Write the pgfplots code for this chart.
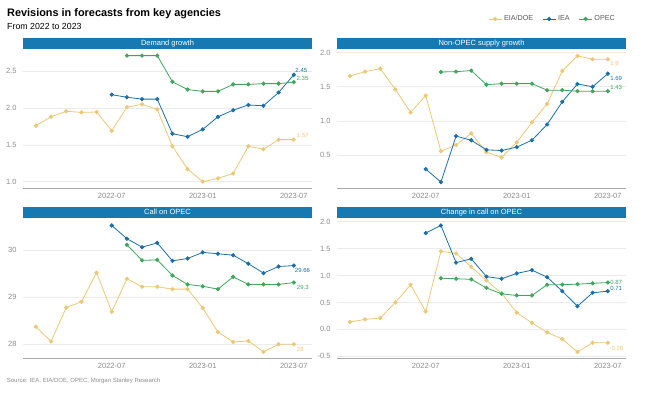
\documentclass[border=0pt]{standalone}
\usepackage{pgfplots}
\pgfplotsset{compat=1.18}
\usepackage{fontspec}
\setmainfont{Liberation Sans}
\definecolor{eia}{HTML}{EBC878}
\definecolor{iea}{HTML}{1B6FA8}
\definecolor{opec}{HTML}{3EA75D}
\definecolor{stripblue}{HTML}{1679B1}
\definecolor{gridgrey}{HTML}{EBEBEB}
\definecolor{axisgrey}{HTML}{AAAAAA}
\definecolor{tickgrey}{HTML}{8C8C8C}
\definecolor{legendgrey}{HTML}{595959}
\tikzset{endlab/.style={anchor=west, inner sep=0pt, font=\fontsize{6}{7}\selectfont}}
\pgfplotsset{
  panel/.style={
    scale only axis, width=289pt, height=139pt,
    xmin=-0.85, xmax=18.2,
    axis line style={draw=none},
    tick style={draw=none}, major tick length=0pt,
    ymajorgrids, grid style={draw=gridgrey, line width=0.6pt},
    xtick={5,11,17}, xticklabels={2022-07,2023-01,2023-07},
    ticklabel style={font=\fontsize{7.5}{9}\selectfont, text=tickgrey},
    xticklabel style={yshift=-2pt},
    yticklabel style={xshift=-3pt},
    clip=false,
    every axis title/.style={at={(0.5,1)}, anchor=south, fill=stripblue, text=white,
      font=\fontsize{7.5}{9}\selectfont, minimum width=289pt, minimum height=11pt,
      inner sep=0pt, outer sep=0pt, text height=5.6pt, text depth=1.6pt},
    every axis plot/.append style={line width=0.8pt, mark=*, mark size=1.7pt, mark options={solid}},
  },
}
\begin{document}
\begin{tikzpicture}
\path (0pt,0pt) rectangle (661pt,398pt);
\node[anchor=base west, inner sep=0pt, font=\bfseries\fontsize{10.9}{12}\selectfont] at (7pt,381.3pt) {Revisions in forecasts from key agencies};
\node[anchor=base west, inner sep=0pt, font=\fontsize{8.8}{10}\selectfont] at (7pt,368pt) {From 2022 to 2023};
\node[anchor=base west, inner sep=0pt, text=tickgrey, font=\fontsize{6}{7}\selectfont] at (6.7pt,15.5pt) {Source: IEA, EIA/DOE, OPEC, Morgan Stanley Research};

% Panel 1: Demand growth
\begin{axis}[panel, at={(23pt,210pt)}, anchor=south west, height=139pt,
  ymin=0.914, ymax=2.80, ytick={1.0,1.5,2.0,2.5}, yticklabels={1.0,1.5,2.0,2.5},
  title={Demand growth}]
\draw[axisgrey, line width=0.9pt] (rel axis cs:0,0) -- (rel axis cs:1,0);
\addplot[eia] coordinates {(0,1.76)(1,1.88)(2,1.955)(3,1.94)(4,1.945)(5,1.69)(6,2.01)(7,2.05)(8,1.98)(9,1.48)(10,1.17)(11,1.00)(12,1.045)(13,1.11)(14,1.48)(15,1.44)(16,1.57)(17,1.57)};
\addplot[iea] coordinates {(5,2.18)(6,2.145)(7,2.12)(8,2.12)(9,1.65)(10,1.61)(11,1.71)(12,1.88)(13,1.97)(14,2.04)(15,2.03)(16,2.21)(17,2.45)};
\addplot[opec] coordinates {(6,2.71)(7,2.71)(8,2.71)(9,2.355)(10,2.25)(11,2.225)(12,2.225)(13,2.32)(14,2.32)(15,2.33)(16,2.33)(17,2.35)};
\node[endlab, text=iea] at (axis cs:17,2.45) [xshift=1.5pt, yshift=4pt] {2.45};
\node[endlab, text=opec] at (axis cs:17,2.35) [xshift=2.7pt, yshift=3.4pt] {2.35};
\node[endlab, text=eia] at (axis cs:17,1.57) [xshift=3pt, yshift=4pt] {1.57};
\end{axis}

% Panel 2: Non-OPEC supply growth
\begin{axis}[panel, at={(337pt,210pt)}, anchor=south west, height=139pt,
  ymin=0.024, ymax=2.05, ytick={0.5,1.0,1.5,2.0}, yticklabels={0.5,1.0,1.5,2.0},
  title={Non-OPEC supply growth},
  legend style={at={(0.969,1.216)}, anchor=east, draw=none, fill=none, legend columns=-1,
    font=\fontsize{7.2}{8}\selectfont, text=legendgrey, inner sep=0pt,
    /tikz/every even column/.append style={column sep=7pt}},
  legend image code/.code={\draw[mark repeat=2,mark phase=2,#1] plot coordinates {(0pt,0pt) (6.5pt,0pt) (13pt,0pt)};}]
\draw[axisgrey, line width=0.9pt] (rel axis cs:0,0) -- (rel axis cs:1,0);
\addplot[eia] coordinates {(0,1.657)(1,1.72)(2,1.763)(3,1.46)(4,1.125)(5,1.37)(6,0.56)(7,0.65)(8,0.82)(9,0.545)(10,0.47)(11,0.69)(12,0.98)(13,1.25)(14,1.73)(15,1.95)(16,1.90)(17,1.90)};
\addplot[iea] coordinates {(5,0.30)(6,0.11)(7,0.78)(8,0.72)(9,0.58)(10,0.57)(11,0.62)(12,0.72)(13,0.95)(14,1.28)(15,1.54)(16,1.50)(17,1.69)};
\addplot[opec] coordinates {(6,1.715)(7,1.72)(8,1.735)(9,1.53)(10,1.545)(11,1.545)(12,1.545)(13,1.45)(14,1.45)(15,1.435)(16,1.435)(17,1.435)};
\legend{EIA/DOE,IEA,OPEC}
\node[endlab, text=eia] at (axis cs:17,1.90) [xshift=2.3pt, yshift=-4.3pt] {1.9};
\node[endlab, text=iea] at (axis cs:17,1.69) [xshift=2.3pt, yshift=-5pt] {1.69};
\node[endlab, text=opec] at (axis cs:17,1.435) [xshift=2.3pt, yshift=4pt] {1.43};
\end{axis}

% Panel 3: Call on OPEC
\begin{axis}[panel, at={(23pt,40pt)}, anchor=south west, height=140pt,
  ymin=27.709, ymax=30.679, ytick={28,29,30}, yticklabels={28,29,30},
  title={Call on OPEC}]
\draw[axisgrey, line width=0.9pt] (rel axis cs:0,0) -- (rel axis cs:1,0);
\addplot[eia] coordinates {(0,28.37)(1,28.06)(2,28.78)(3,28.90)(4,29.52)(5,28.69)(6,29.39)(7,29.22)(8,29.22)(9,29.17)(10,29.17)(11,28.77)(12,28.26)(13,28.05)(14,28.07)(15,27.84)(16,28.00)(17,28.00)};
\addplot[iea] coordinates {(5,30.52)(6,30.24)(7,30.06)(8,30.15)(9,29.77)(10,29.82)(11,29.95)(12,29.92)(13,29.89)(14,29.71)(15,29.51)(16,29.65)(17,29.67)};
\addplot[opec] coordinates {(6,30.11)(7,29.78)(8,29.79)(9,29.46)(10,29.27)(11,29.23)(12,29.17)(13,29.43)(14,29.27)(15,29.27)(16,29.27)(17,29.31)};
\node[endlab, text=iea] at (axis cs:17,29.67) [xshift=1pt, yshift=-5.3pt] {29.66};
\node[endlab, text=opec] at (axis cs:17,29.31) [xshift=3pt, yshift=-5pt] {29.3};
\node[endlab, text=eia] at (axis cs:17,28.00) [xshift=3pt, yshift=-4.7pt] {28};
\end{axis}

% Panel 4: Change in call on OPEC
\begin{axis}[panel, at={(337pt,40pt)}, anchor=south west, height=140pt,
  ymin=-0.532, ymax=2.069, ytick={-0.5,0,0.5,1.0,1.5,2.0}, yticklabels={-0.5,0.0,0.5,1.0,1.5,2.0},
  title={Change in call on OPEC}]
\draw[axisgrey, line width=0.9pt] (rel axis cs:0,0) -- (rel axis cs:1,0);
\addplot[eia] coordinates {(0,0.136)(1,0.186)(2,0.21)(3,0.50)(4,0.83)(5,0.33)(6,1.45)(7,1.41)(8,1.16)(9,0.91)(10,0.67)(11,0.31)(12,0.12)(13,-0.056)(14,-0.18)(15,-0.42)(16,-0.25)(17,-0.25)};
\addplot[iea] coordinates {(5,1.79)(6,1.93)(7,1.24)(8,1.31)(9,0.98)(10,0.94)(11,1.04)(12,1.10)(13,0.97)(14,0.71)(15,0.43)(16,0.68)(17,0.71)};
\addplot[opec] coordinates {(6,0.95)(7,0.94)(8,0.93)(9,0.77)(10,0.66)(11,0.63)(12,0.63)(13,0.83)(14,0.83)(15,0.84)(16,0.855)(17,0.87)};
\node[endlab, text=opec] at (axis cs:17,0.87) [xshift=2.3pt, yshift=0pt] {0.87};
\node[endlab, text=iea] at (axis cs:17,0.71) [xshift=2.3pt, yshift=2.4pt] {0.71};
\node[endlab, text=eia] at (axis cs:17,-0.25) [xshift=1.6pt, yshift=-5.3pt] {-0.26};
\end{axis}
\end{tikzpicture}
\end{document}
